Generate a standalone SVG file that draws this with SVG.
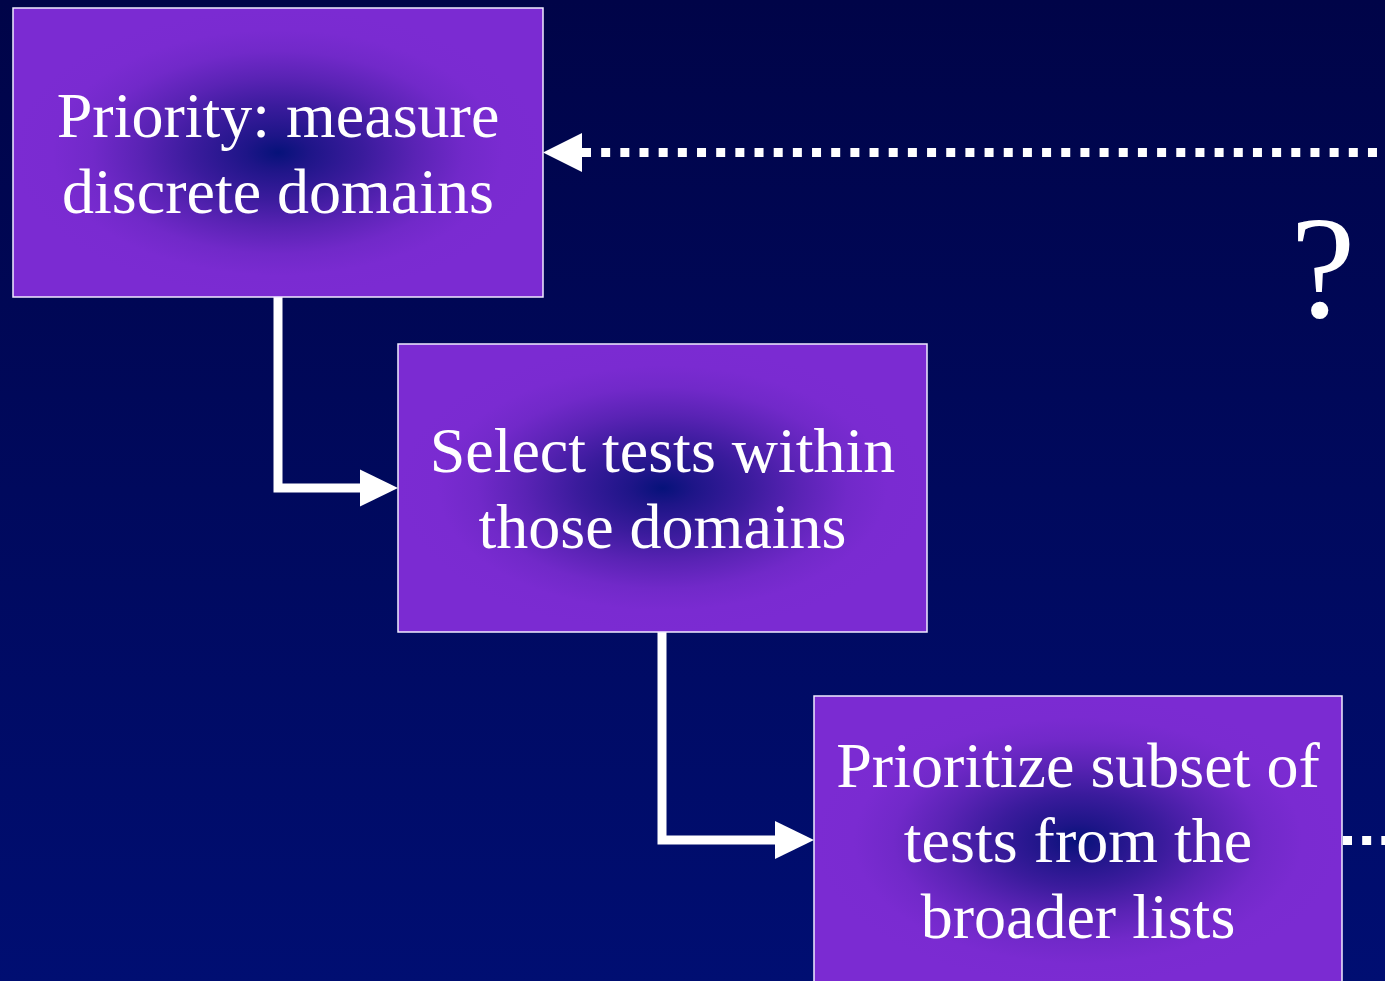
<svg xmlns="http://www.w3.org/2000/svg" width="1385" height="981" viewBox="0 0 1385 981">
  <defs>
    <linearGradient id="bg" x1="0" y1="0" x2="0" y2="1">
      <stop offset="0" stop-color="#000448"/>
      <stop offset="1" stop-color="#000e72"/>
    </linearGradient>
    <radialGradient id="boxfill" cx="0.5" cy="0.5" r="0.5">
      <stop offset="0" stop-color="#06127a"/>
      <stop offset="0.12" stop-color="#1e1588"/>
      <stop offset="0.32" stop-color="#3a1b9c"/>
      <stop offset="0.52" stop-color="#5a23b5"/>
      <stop offset="0.7" stop-color="#7129c9"/>
      <stop offset="0.85" stop-color="#7a2bd1"/>
      <stop offset="1" stop-color="#7b2bd2"/>
    </radialGradient>
    <style>
      .box { fill: url(#boxfill); stroke: #f0ecff; stroke-width: 1.5; }
      .label { font-family: "Liberation Serif", "Times New Roman", serif; font-size: 64px; fill: #ffffff; text-anchor: middle; }
      .conn { fill: none; stroke: #ffffff; stroke-width: 9; stroke-linejoin: miter; }
      .dots { fill: none; stroke: #ffffff; stroke-width: 9; stroke-dasharray: 9 10.17; }
      .head { fill: #ffffff; }
    </style>
  </defs>
  <rect x="0" y="0" width="1385" height="981" fill="url(#bg)"/>

  <g id="connectors">
    <path class="conn" d="M278,297 V488 H362"/>
    <polygon class="head" points="360,469.5 398,488 360,506.5"/>
    <path class="conn" d="M662,632 V840 H777"/>
    <polygon class="head" points="775,821 814,840 775,859"/>
    <line class="dots" x1="582" y1="152.5" x2="1385" y2="152.5"/>
    <polygon class="head" points="543,152.5 582,133 582,172"/>
    <line class="dots" x1="1343" y1="840.5" x2="1385" y2="840.5"/>
  </g>

  <g id="node1">
    <rect class="box" x="13" y="8" width="530" height="289"/>
    <text class="label" x="278" y="137">Priority: measure</text>
    <text class="label" x="278" y="213">discrete domains</text>
  </g>

  <g id="node2">
    <rect class="box" x="398" y="344" width="529" height="288"/>
    <text class="label" x="662.5" y="472">Select tests within</text>
    <text class="label" x="662.5" y="548">those domains</text>
  </g>

  <g id="node3">
    <rect class="box" x="814" y="696" width="528" height="289"/>
    <text class="label" x="1078" y="787">Prioritize subset of</text>
    <text class="label" x="1078" y="862">tests from the</text>
    <text class="label" x="1078" y="938">broader lists</text>
  </g>

  <g id="question">
    <text class="label" x="1323" y="317" font-size="146" style="font-size:146px">?</text>
  </g>
</svg>
